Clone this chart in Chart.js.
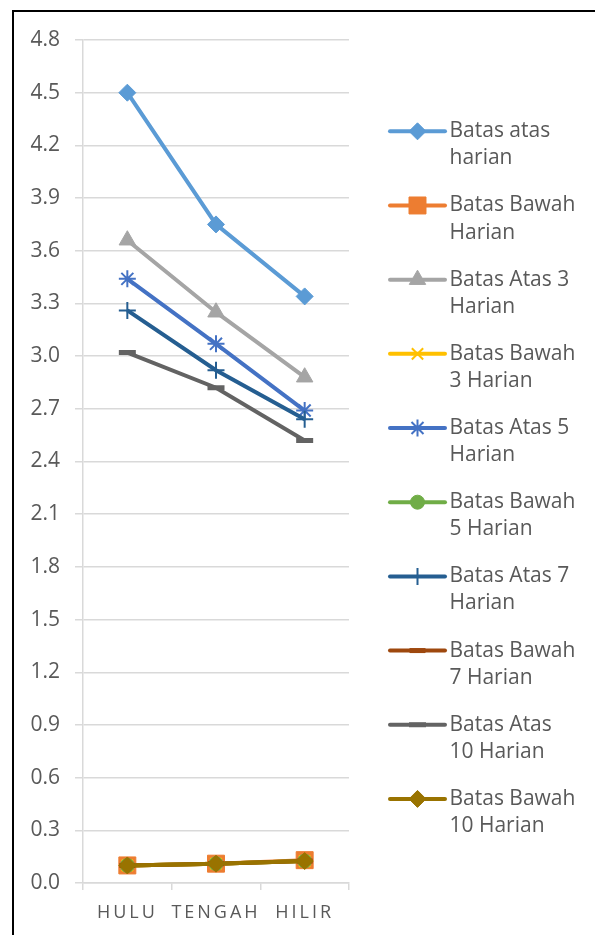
<!DOCTYPE html>
<html>
<head>
<meta charset="utf-8">
<script src="https://cdn.jsdelivr.net/npm/chart.js@4.4.1/dist/chart.umd.min.js"></script>
<style>
  html, body { margin: 0; padding: 0; background: #fff; }
  #wrap { position: relative; width: 595px; height: 935px; overflow: hidden; }
  #frame { position: absolute; left: 12px; top: 10px; width: 700px; height: 1000px;
           border-left: 2px solid #000; border-top: 2px solid #000; }
  #chart { position: absolute; left: 0; top: 0; }
</style>
</head>
<body>
<div id="wrap">
  <div id="frame"></div>
  <canvas id="chart" width="595" height="935"></canvas>
</div>
<script>
// categories + values
var categories = ["HULU", "TENGAH", "HILIR"];
var yTickValues = [0.0, 0.3, 0.6, 0.9, 1.2, 1.5, 1.8, 2.1, 2.4, 2.7, 3.0, 3.3, 3.6, 3.9, 4.2, 4.5, 4.8];

var batasAtasHarian  = [4.50, 3.75, 3.34];
var batasBawahHarian = [0.10, 0.11, 0.13];
var batasAtas3       = [3.66, 3.25, 2.88];
var batasBawah3      = [0.10, 0.11, 0.125];
var batasAtas5       = [3.44, 3.07, 2.69];
var batasBawah5      = [0.10, 0.11, 0.125];
var batasAtas7       = [3.26, 2.92, 2.64];
var batasBawah7      = [0.10, 0.11, 0.125];
var batasAtas10      = [3.02, 2.82, 2.52];
var batasBawah10     = [0.10, 0.11, 0.125];

// legend text, split the way the original wraps it
var legendLines = [
    ["Batas atas", "harian"],
    ["Batas Bawah", "Harian"],
    ["Batas Atas 3", "Harian"],
    ["Batas Bawah", "3 Harian"],
    ["Batas Atas 5", "Harian"],
    ["Batas Bawah", "5 Harian"],
    ["Batas Atas 7", "Harian"],
    ["Batas Bawah", "7 Harian"],
    ["Batas Atas", "10 Harian"],
    ["Batas Bawah", "10 Harian"]
];

var textColor = "#595959";
var gridColor = "#d9d9d9";

function makeSet(i, data, color, style, radius, pbw) {
    return {
        label: legendLines[i].join(" "),
        data: data,
        borderColor: color,
        backgroundColor: color,
        borderWidth: 4,
        pointStyle: style,
        pointRadius: radius,
        pointBorderWidth: pbw,
        pointBorderColor: color,
        pointBackgroundColor: color,
        tension: 0,
        // excel paints later series on top
        order: 20 - i
    };
}

var datasets = [
    makeSet(0, batasAtasHarian, "#5B9BD5", "rectRot", 8.5, 1),
    makeSet(1, batasBawahHarian, "#ED7D31", "rect", 12, 1),
    makeSet(2, batasAtas3, "#A5A5A5", "triangle", 9.5, 1),
    makeSet(3, batasBawah3, "#FFC000", "crossRot", 8, 2),
    makeSet(4, batasAtas5, "#4472C4", "star", 8.5, 2),
    makeSet(5, batasBawah5, "#70AD47", "circle", 7, 1),
    makeSet(6, batasAtas7, "#255E91", "cross", 8.5, 2),
    makeSet(7, batasBawah7, "#9E480E", "line", 8, 5),
    makeSet(8, batasAtas10, "#636363", "line", 8.5, 5),
    makeSet(9, batasBawah10, "#997300", "rectRot", 8.5, 1)
];

// legend auto width gets the wrapped labels wrong, so pin it
var legendWidth = {
    id: "legendWidth",
    beforeLayout: function (chart) {
        var lg = chart.legend;
        if (!lg || lg._pinned) return;
        var fit = lg.fit;
        lg.fit = function () {
            fit.apply(this, arguments);
            this.width = 236;
        };
        lg._pinned = true;
    }
};

// line + marker in front of each legend entry
var legendIcons = {
    id: "legendIcons",
    afterDraw: function (chart) {
        var legend = chart.legend;
        if (!legend || !legend.legendHitBoxes) return;
        var ctx = chart.ctx;
        legend.legendHitBoxes.forEach(function (box, i) {
            var ds = chart.data.datasets[i];
            var x1 = box.left + 21, x2 = box.left + 76;
            var y = box.top + 10.5;
            ctx.save();
            ctx.strokeStyle = ds.borderColor;
            ctx.lineWidth = 4;
            ctx.lineCap = "round";
            ctx.beginPath();
            ctx.moveTo(x1, y);
            ctx.lineTo(x2, y);
            ctx.stroke();
            ctx.lineCap = "butt";
            ctx.lineWidth = ds.pointBorderWidth;
            ctx.fillStyle = ds.pointBackgroundColor;
            ctx.strokeStyle = ds.pointBorderColor;
            Chart.helpers.drawPoint(ctx, {
                pointStyle: ds.pointStyle,
                radius: ds.pointRadius,
                borderWidth: ds.pointBorderWidth,
                rotation: 0
            }, (x1 + x2) / 2, y);
            ctx.restore();
        });
    }
};

// spaced-out category labels (canvas letterSpacing)
var xLabels = {
    id: "xLabels",
    afterDraw: function (chart) {
        var ctx = chart.ctx;
        var xs = chart.scales.x;
        ctx.save();
        ctx.font = '18px "Open Sans"';
        ctx.letterSpacing = "3px";
        ctx.fillStyle = textColor;
        ctx.textAlign = "center";
        ctx.textBaseline = "middle";
        categories.forEach(function (c, i) {
            ctx.fillText(c, xs.getPixelForValue(i), 913);
        });
        ctx.restore();
    }
};

new Chart(document.getElementById("chart"), {
    type: "line",
    data: {
        labels: categories,
        datasets: datasets
    },
    options: {
        responsive: false,
        animation: false,
        events: [],
        layout: {
            padding: { top: 40, right: 10, bottom: 0, left: 0 }
        },
        scales: {
            x: {
                type: "category",
                offset: true,
                afterFit: function (scale) { scale.height = 52; },
                ticks: { display: false },
                grid: {
                    offset: true,
                    drawOnChartArea: false,
                    drawTicks: true,
                    tickLength: 7,
                    color: gridColor,
                    lineWidth: 1.5
                },
                border: { display: true, color: gridColor, width: 1.5 }
            },
            y: {
                min: 0,
                max: 4.8,
                afterFit: function (scale) { scale.width = 83; },
                afterBuildTicks: function (scale) {
                    scale.ticks = yTickValues.map(function (v) { return { value: v }; });
                },
                ticks: {
                    padding: 15,
                    color: textColor,
                    font: { family: "Open Sans", size: 21 },
                    callback: function (v) { return Number(v).toFixed(1); }
                },
                grid: {
                    color: gridColor,
                    lineWidth: 1.5,
                    drawTicks: true,
                    tickLength: 8
                },
                border: { display: true, color: gridColor, width: 1.5 }
            }
        },
        plugins: {
            tooltip: { enabled: false },
            legend: {
                position: "right",
                align: "center",
                fullSize: false,
                title: { display: true, text: "", padding: 13, font: { size: 12 } },
                labels: {
                    boxWidth: 70,
                    boxHeight: 2,
                    padding: 20,
                    color: textColor,
                    font: { family: "Open Sans", size: 21, lineHeight: 1.29 },
                    generateLabels: function (chart) {
                        return chart.data.datasets.map(function (ds, i) {
                            return {
                                text: legendLines[i],
                                fillStyle: "rgba(0,0,0,0)",
                                strokeStyle: "rgba(0,0,0,0)",
                                lineWidth: 0,
                                hidden: false,
                                datasetIndex: i,
                                fontColor: textColor
                            };
                        });
                    }
                }
            }
        }
    },
    plugins: [legendWidth, legendIcons, xLabels]
});
</script>
</body>
</html>
